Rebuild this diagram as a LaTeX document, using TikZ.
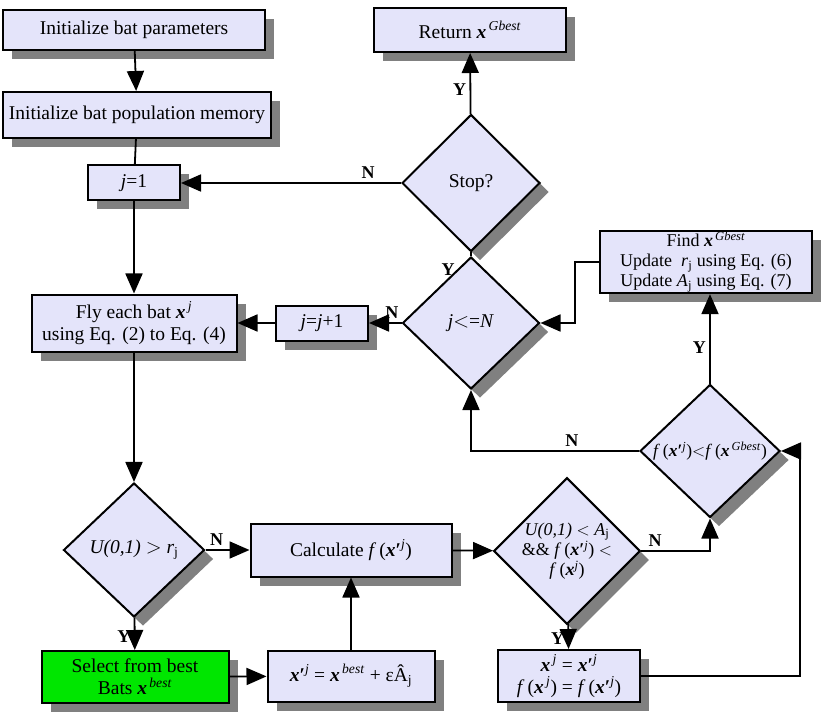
\documentclass[tikz,border=0pt]{standalone}
\usepackage{fontspec}
\setmainfont{Liberation Serif}
\usetikzlibrary{shapes.geometric,shadows,arrows.meta}
\definecolor{boxfill}{RGB}{228,228,250}
\definecolor{shad}{RGB}{128,128,128}
\definecolor{grn}{RGB}{0,230,0}
\newcommand{\bx}{\textbf{\textit{x}}}
\newcommand{\sps}[1]{\textsuperscript{\,\textit{#1}}}
\begin{document}
\begin{tikzpicture}[x=1pt,y=-1pt,
  every node/.style={font=\fontsize{19.5}{22}\selectfont},
  shd/.style={drop shadow={shadow xshift=9pt,shadow yshift=-9pt,fill=shad,opacity=1}},
  box/.style={draw,line width=2pt,fill=boxfill,shd,align=center,inner sep=1pt},
  dia/.style={draw,line width=2pt,fill=boxfill,shd,diamond,inner sep=0pt,align=center},
  arr/.style={line width=1.8pt,-{Triangle[length=20pt,width=17pt]}},
  ln/.style={line width=1.8pt},
  lab/.style={font=\fontsize{18}{20}\selectfont\bfseries}]
\useasboundingbox (0,0) rectangle (833,722);
\node[box,minimum width=262,minimum height=40] (ip) at (134,30) {Initialize bat parameters};
\node[box,minimum width=268,minimum height=46] (pm) at (137,115) {Initialize bat population memory};
\node[box,minimum width=92,minimum height=35] (j1) at (134,183) {\textit{j}=1};
\node[box,minimum width=205,minimum height=57] (fly) at (134,323) {Fly each bat \bx\sps{j}\\using Eq. (2) to Eq. (4)};
\node[dia,minimum width=141,minimum height=134] (d1) at (134,550) {\textit{U(0,1)} $>$ \textit{r}\textsubscript{j}};
\node[box,fill=grn,minimum width=187,minimum height=52] (sel) at (135,677) {Select from best\\Bats \bx\sps{best}};
\node[box,minimum width=167,minimum height=51] (xp) at (351,676) {\bx\textbf{\char"2032}\textsuperscript{\textit{j}} = \bx\sps{best} + ε\^{A}\textsubscript{j}};
\node[box,minimum width=201,minimum height=53] (calc) at (351,550) {Calculate \textit{f}\,(\bx\textbf{\char"2032}\textsuperscript{\textit{j}})};
\node[dia,minimum width=140,minimum height=134,font=\fontsize{18}{20}\selectfont] (d2) at (567,551) {\textit{U(0,1)} $<$ \textit{A}\textsubscript{j}\\\&\& \textit{f}\,(\bx\textbf{\char"2032}\textsuperscript{\textit{j}}) $<$\\\textit{f}\,(\bx\textsuperscript{\textit{j}})};
\node[box,minimum width=142,minimum height=52] (xj) at (569,676) {\bx\textsuperscript{\,\textit{j}} = \bx\textbf{\char"2032}\textsuperscript{\textit{j}}\\\textit{f}\,(\bx\textsuperscript{\,\textit{j}}) = \textit{f}\,(\bx\textbf{\char"2032}\textsuperscript{\textit{j}})};
\node[dia,minimum width=140,minimum height=133,font=\fontsize{17.5}{20}\selectfont] (d3) at (710,451) {\textit{f}\,(\bx\textbf{\char"2032}\textsuperscript{\textit{j}})$<$\textit{f}\,(\bx\sps{Gbest})};
\node[box,minimum width=212,minimum height=60,font=\fontsize{18}{20}\selectfont] (find) at (706,262) {Find \bx\sps{Gbest}\\Update \ \textit{r}\textsubscript{j} using Eq. (6)\\Update \textit{A}\textsubscript{j} using Eq. (7)};
\node[dia,minimum width=137,minimum height=132] (d4) at (471,323) {\textit{j}$<$=\textit{N}};
\node[box,minimum width=92,minimum height=35] (jj) at (322,323) {\textit{j}=\textit{j}+1};
\node[dia,minimum width=138,minimum height=137] (d5) at (471,183) {Stop?};
\node[box,minimum width=192,minimum height=44] (ret) at (470,30) {Return \bx\sps{Gbest}};
% connectors
\draw[arr] (ip) -- (pm);
\draw[ln] (pm) -- (j1);
\draw[arr] (j1) -- (fly);
\draw[arr] (fly) -- (d1);
\draw[arr] (d1) -- node[lab,left,pos=0.6]{Y} (sel);
\draw[arr] (d1) -- node[lab,above,pos=0.25]{N} (calc);
\draw[arr] (sel) -- (xp);
\draw[arr] (xp) -- (calc);
\draw[arr] (calc) -- (d2);
\draw[arr] (d2) -- node[lab,left,pos=0.6]{Y} (xj);
\draw[arr] (d2.east) -- node[lab,above,pos=0.2]{N} (d2.east -| d3.south) -- (d3.south);
\coordinate (c1) at (800,676);
\draw[arr] (xj.east) -- (c1) -- (c1 |- d3.east) -- (d3.east);
\draw[arr] (d3.west) -- node[lab,above,pos=0.4]{N} (d3.west -| d4.south) -- (d4.south);
\draw[arr] (d3.north) -- node[lab,left,pos=0.4]{Y} (find.south -| d3.north);
\coordinate (c2) at (575,262);
\draw[arr] (find.west) -- (c2) -- (c2 |- d4.east) -- (d4.east);
\draw[arr] (d4.west) -- node[lab,above,pos=0.3]{N} (jj);
\draw[arr] (jj) -- (fly);
\draw[ln] (d4.north) -- (d5.south);
\node[lab] (ylab) at (448,270) {Y};
\draw[arr] (d5) -- node[lab,left,pos=0.4]{Y} (ret);
\draw[arr] (d5) -- node[lab,above,pos=0.15]{N} (j1);
\end{tikzpicture}
\end{document}
